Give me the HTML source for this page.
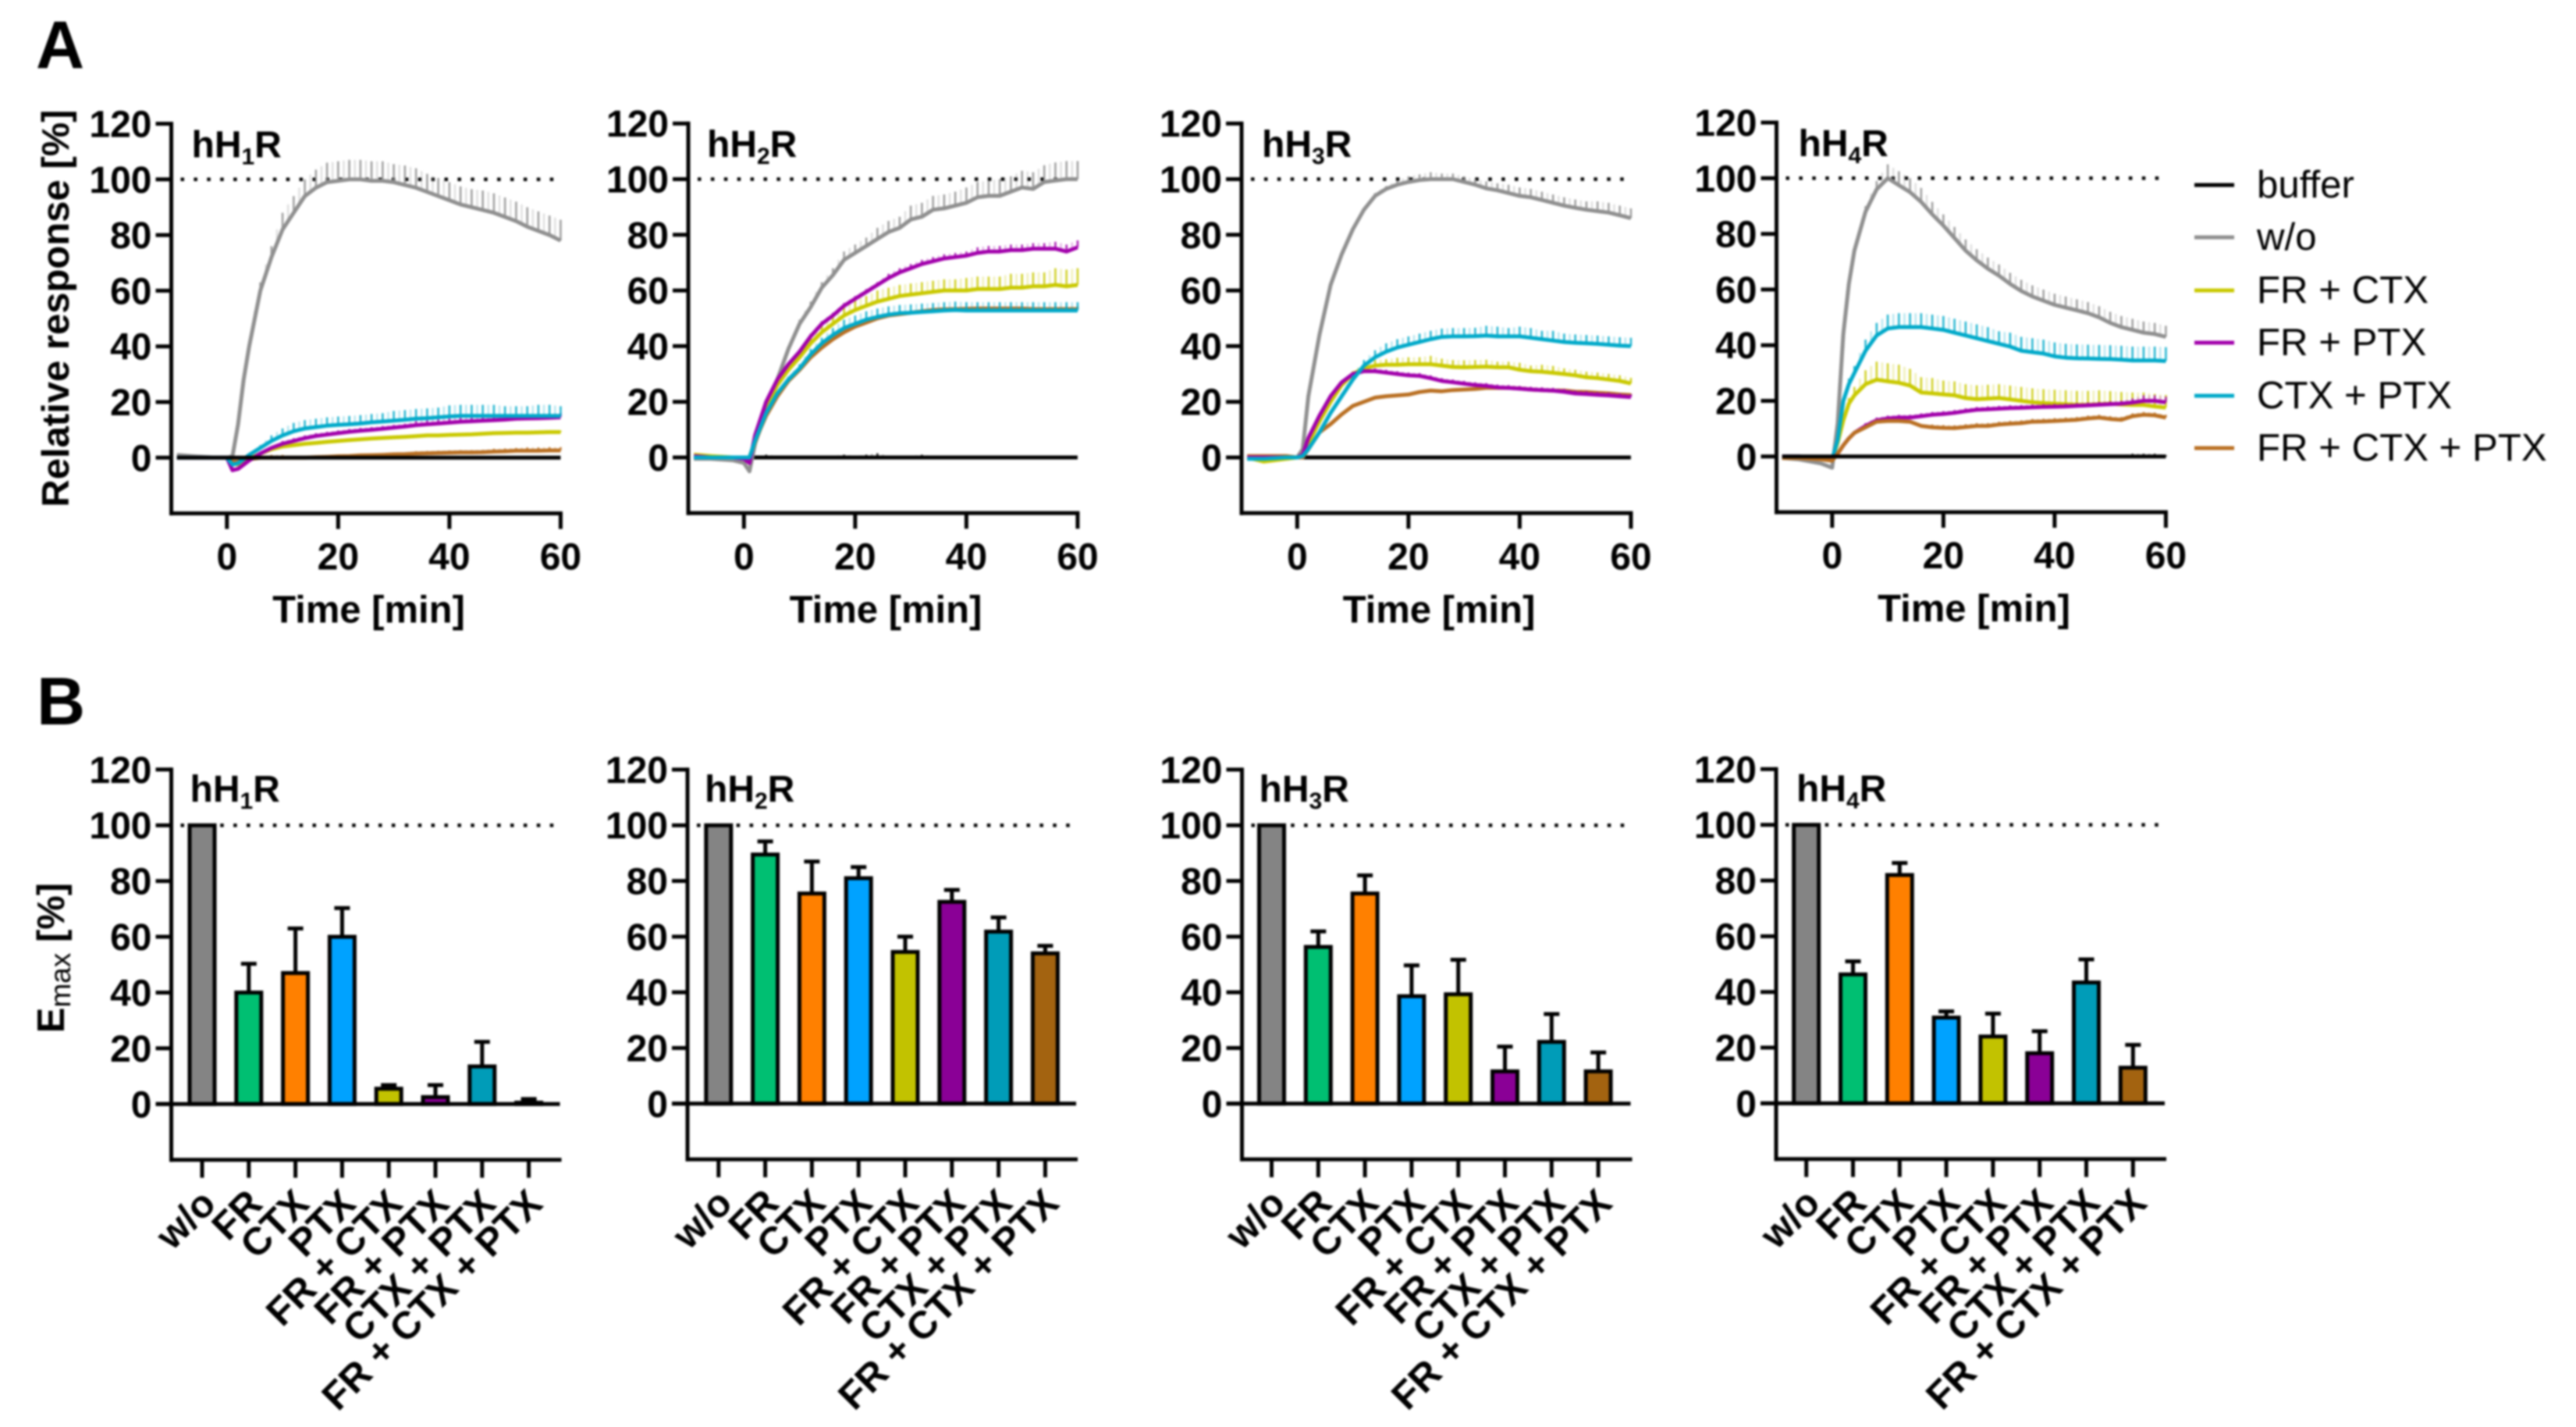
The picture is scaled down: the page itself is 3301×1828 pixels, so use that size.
<!DOCTYPE html>
<html lang="en">
<head>
<meta charset="utf-8">
<title>Histamine receptor responses</title>
<style>
html,body{margin:0;padding:0;background:#fff;width:3301px;height:1828px;overflow:hidden}
#figure{display:block;filter:blur(1.2px)}
text{font-family:"Liberation Sans",Arial,sans-serif;fill:#000}
.b{font-weight:700;font-size:48px}
.t{font-weight:700;font-size:49px}
.r{font-weight:700;font-size:49.5px}
.lg{font-weight:400;font-size:49.2px}
</style>
</head>
<body>
<svg id="figure" xmlns="http://www.w3.org/2000/svg" width="3301" height="1828" viewBox="0 0 3301 1828">
  <rect width="3301" height="1828" fill="#fff"/>
  <text x="46" y="87" font-size="86" font-weight="700">A</text>
  <text x="47" y="928" font-size="86" font-weight="700">B</text>
  <text class="t" transform="translate(88,395) rotate(-90)" text-anchor="middle">Relative response [%]</text>
  <text class="t" transform="translate(82,1227) rotate(-90)" text-anchor="middle">E<tspan font-size="37" font-weight="400" dy="8">max</tspan><tspan dy="-8"> [%]</tspan></text>
  <g>
    <g><line x1="2812" x2="2863" y1="237" y2="237" stroke="#000" stroke-width="5"/><text class="lg" x="2892" y="253">buffer</text></g>
    <g><line x1="2812" x2="2863" y1="304" y2="304" stroke="#8f8f8f" stroke-width="5"/><text class="lg" x="2892" y="320">w/o</text></g>
    <g><line x1="2812" x2="2863" y1="372" y2="372" stroke="#c9c900" stroke-width="5"/><text class="lg" x="2892" y="388">FR + CTX</text></g>
    <g><line x1="2812" x2="2863" y1="439" y2="439" stroke="#a100ab" stroke-width="5"/><text class="lg" x="2892" y="455">FR + PTX</text></g>
    <g><line x1="2812" x2="2863" y1="507" y2="507" stroke="#00a9c9" stroke-width="5"/><text class="lg" x="2892" y="523">CTX + PTX</text></g>
    <g><line x1="2812" x2="2863" y1="574" y2="574" stroke="#b96f22" stroke-width="5"/><text class="lg" x="2892" y="590">FR + CTX + PTX</text></g>
  </g>
</svg>
<script>
// ---------- shared axis labels ----------
const yTickValues = [0, 20, 40, 60, 80, 100, 120];
const xTickValues = [0, 20, 40, 60];
const times = [-9,-6,-2,0,1,2,3,4,6,8,10,12,14,16,18,20,22,24,26,28,30,32,34,36,38,40,42,44,46,48,50,52,54,56,58,60];
const barCategories = ["w/o","FR","CTX","PTX","FR + CTX","FR + PTX","CTX + PTX","FR + CTX + PTX"];
const seriesNames = ["buffer","w/o","FR + CTX","FR + PTX","CTX + PTX","FR + CTX + PTX"];
const seriesColors = ["#000000","#8f8f8f","#c9c900","#a100ab","#00a9c9","#b96f22"];
const barColors = ["#848484","#00bf72","#ff8000","#00a2ff","#c2c200","#8a0096","#009cb8","#a36310"];

// ---------- time-course values ----------
const bufferValues = [0,0,0,0,0,0,0,0,0,0,0,0,0,0,0,0,0,0,0,0,0,0,0,0,0,0,0,0,0,0,0,0,0,0,0,0];
const bufferErrNone = [0,0,0,0,0,0,0,0,0,0,0,0,0,0,0,0,0,0,0,0,0,0,0,0,0,0,0,0,0,0,0,0,0,0,0,0];
const h2BufferErr = [0,0,0,0,0,0,0.5,1,0.5,0.5,0,0,0,0.5,1,0.5,1,1.5,0.5,0.5,0.5,1,0.5,0.5,0.5,0.5,0,0,0,0.5,0,0,0,0,0,0];
const h4BufferErr = [0,0,0,0,0,0,0.5,0.5,0.5,0.5,0.5,0.5,0.5,0.5,0.5,0.5,0.5,0.5,0.5,0.5,0.5,0.5,0.5,0.5,0.5,0.5,0.5,0.5,0.5,0.5,0.5,0.5,1,1,1,0.5];

const h1Wo = [1,0.5,0,0,0.5,12,28,40,60,72,82,88,94,97,99,99.5,100,100,99.5,99.5,99,98,97,95.5,94,92.5,91,90,89,88,86.5,85,83,81.5,80,78];
const h1WoErr = [0,0,0,0,0,0.5,1,2,3,4,6,6,6,6.5,7,7,7,7,7,7,6.5,7,7,6.5,6.5,6.5,6.5,6.5,7,7,7,7,7,7,7,7.5];
const h1FrCtx = [0,0,0,0,-2,-2.5,-1.5,-0.5,1.5,3,4,4.5,5,5.3,5.7,6,6.3,6.6,6.9,7.1,7.3,7.5,7.7,8,8,8.2,8.3,8.4,8.6,8.8,8.9,9,9,9.1,9.2,9.2];
const h1FrCtxErr = [0,0,0,0,0,0,0,0,0.5,0.5,0.5,0.5,0.5,0.5,0.5,0.5,0.5,0.5,0.5,0.5,0.5,0.5,0.5,0.5,0.5,0.5,0.5,0.5,0.5,0.5,0.5,0.5,0.5,0.5,0.5,0.5];
const h1FrPtx = [0,0,0,0,-4.5,-4,-2.5,-1,1.5,3.5,5,6,7,7.8,8.3,8.8,9.3,9.7,10,10.4,10.8,11.2,11.7,12,12.3,12.6,12.9,13.1,13.3,13.5,13.7,14,14.1,14.2,14.3,14.5];
const h1FrPtxErr = [0,0,0,0,0,0,0,0,0.5,0.5,1,1,1,1,1,1,1,1,1,1,1,1,1.5,1.5,1.5,1.5,1.5,1.5,1.5,1.5,1.5,1.5,1.5,1.5,1.5,1.5];
const h1CtxPtx = [0,0,0,0,-2.5,-2,-0.5,1,3.5,6,8,9.5,10.5,11,11.5,11.8,12,12.3,12.7,13,13.3,13.6,14,14.2,14.5,14.8,15,15,15,15,15,15,15,15,15,15];
const h1CtxPtxErr = [0,0,0,0,0,0,0,0.5,1,2,2.5,3,3,3,3,3,3,3,3,3,3.5,3.5,3.5,3.5,3.5,4,4,4,4,4,3.5,3.5,3.5,4,4,3.5];
const h1FrCtxPtx = [0,0,0,0,-1.5,-1.5,-1,-0.5,0,0,0,0,0,0.2,0.3,0.5,0.6,0.8,0.9,1,1.2,1.3,1.5,1.6,1.7,1.8,1.9,1.9,2,2.2,2.3,2.5,2.5,2.5,2.6,2.6];
const h1FrCtxPtxErr = [0,0,0,0,0,0,0,0,0.5,1,1,0.5,0.5,0.5,0.5,0.5,0.5,0.5,0.5,0.5,0.5,0.5,0.8,0.8,0.8,0.8,0.8,0.8,0.8,1,1,1,1.2,1.2,1.2,1.2];

const h2Wo = [-0.5,-0.5,-1,-2,-5,5,11,17,28,39,48,54,61,65.5,71,73.5,76,78.5,81,82.5,85.5,86.5,89,89.5,90.5,91.5,93.5,94,94,95.5,97,96.5,99,99.5,100,100];
const h2WoErr = [0,0,0,0,0,0,0.5,0.5,1,1,1.5,2,2,2.5,3,3,3,4,4,4,5,5,5,5,5,5.5,5.5,5.5,6,5.5,6,6,6,6.5,6.5,6.5];
const h2FrCtx = [1,0.5,0,0,0,6,12,18,26,31.5,36,41,45,48,51,53,54.5,56,57,58,58.5,59,59.5,60,60,60,60.5,60.5,60.5,61,61,61.5,61.5,62,61.5,62];
const h2FrCtxErr = [0,0,0,0,0,0,0,0.5,1,1.5,2,2,3,3,3.5,3.5,3.5,4,4,4,4,4,4,4,4,4.5,4.5,4.5,4.5,5,5,5,5,6,6,6];
const h2FrPtx = [0.5,0,0,-0.5,-2,8,14,20,28,33.5,38,43.5,48,51,54.5,57,59.5,62,64.5,66.5,68,69.5,70.5,71.5,72,72.5,73.5,74,74,74.5,74.5,75,75,75,74,75.5];
const h2FrPtxErr = [0,0,0,0,0,0,0,0,0.5,0.5,0.5,1,1,1,1,1,1,1,1.5,1.5,1.5,1.5,1.5,1.5,1.5,1.5,2,2,2,2,2,2,2,2.5,2.5,2.5];
const h2CtxPtx = [0,0,0,0,0,6,11,16,23,28,32,37,41,44,46.5,48,49.5,50.5,51.3,51.8,52,52.3,52.5,52.8,53,52.8,52.8,52.8,52.8,52.8,52.8,52.8,52.8,52.8,52.8,52.8];
const h2CtxPtxErr = [0,0,0,0,0,0,0,0.5,0.5,1,1.5,2,2,2.5,3,3,3,3,3,3,3,3,3,3,3,3,3,3,3,3,3,3,3,3,3,3];
const h2FrCtxPtx = [0.5,0,0,0,0,5.5,10.5,15,22,27.5,31.5,36,39.5,42.5,45,47,48.5,50,51,51.5,52,52.5,53,53.2,53.3,53.4,53.5,53.5,53.5,53.5,53.5,53.3,53.3,53.3,53.3,53.3];
const h2FrCtxPtxErr = [0,0,0,0,0,0,0,0,0,0,0.5,0.5,0.5,0.5,0.5,0.5,0.5,0.5,0.5,0.5,0.5,0.5,0.5,0.5,0.5,0.5,0.5,0.5,0.5,0.5,0.5,0.5,0.5,1,1,1];

const h3Wo = [0,0,0,0,3,22,33,44,62,73,82,89,94,96.5,98,99,99.7,100,100,100,99,98,96.7,96,95,94,93.5,92.5,91.5,90.5,89.7,89,88.5,88,87,86];
const h3WoErr = [0,0,0,0,0,0,0,0,0,0,0.5,0.5,1,1,1.5,2,2,2.5,2,2,2,2,2.5,2.5,3,3,3,3,3,3,3,3,3.5,3.5,3.5,3.5];
const h3FrCtx = [0,-1.5,-0.5,0,1,5,9,13,20,26,30,32,33,33.3,33.3,33.5,33.5,33.5,33,32.5,32.4,32.5,32.6,32.4,32.4,31.5,31,30.8,30.4,30,29.5,28.8,28.5,28,27.5,26.6];
const h3FrCtxErr = [0,0,0,0,0,0,0,0,0,0.5,1,1.5,2,2,2.5,2.5,2.5,3,2.5,2.5,2.5,2.5,2.5,2,2,2.5,2,2.5,2.5,2,2,2,2,2,2,2];
const h3FrPtx = [0,0,0,0,1,7,11,15,22,27,30,31,31,30.5,30,29.5,29.3,28.5,27.5,27,26.5,26,25.7,25.2,25,24.7,24.4,24.2,24,23.6,23,22.8,22.5,22.3,22,21.7];
const h3FrPtxErr = [0,0,0,0,0,0,0,0,0,0,0.5,0.5,1,1,1,1,1,1,1,1,1,1,1,1,1,1,1,1,1,1,1,1,1,1,1,1];
const h3CtxPtx = [-0.5,-0.5,0,0,0.5,3,6,9,16,22,28,33,36,38,39.5,40.5,41.5,42.5,43.3,43.5,43.5,43.6,43.8,43.5,43.5,43.5,43,42.5,42,41.5,41.2,41,40.8,40.5,40.2,40];
const h3CtxPtxErr = [0,0,0,0,0,0,0,0,0.5,1,1.5,2,2.5,3,3,3,3,3,3,3,3,3,3.5,3.5,3,3.5,3.5,3,3.5,3,3,3,3,3,3,3];
const h3FrCtxPtx = [0.5,0.5,0.5,0,0,3,6,9,12,15.5,18.5,20,21.5,22,22.3,22.6,23.5,24,23.8,24.2,24.4,24.6,25,25,25,24.8,24.4,24.2,24,24,23.6,23.5,23.2,23,22.6,22.4];
const h3FrCtxPtxErr = [0,0,0,0,0,0,0,0,0,0,0,0,0,0,0,0,0,0.5,0.5,0.5,0.5,0.5,0.5,0.5,0.5,0.5,0.5,0.5,0.5,0.5,0.5,0.5,0.5,0.5,0.5,0.5];

const h4Wo = [-0.5,-1,-2.5,-4,12,44,62,74,88,96,100,97.5,95,91.5,87,83,78.5,74,70.5,67.5,65,62,59.5,57.5,56,54.5,53.5,52.5,51.5,50,48,46.5,45.5,44.5,44,43];
const h4WoErr = [0,0,0,0,0,0,0.5,1,2,3,5,5,5,5,4.5,4,4,4,4,4,4,4,4,4,4,4,4,4,4,4,4,4,4,4,4,4];
const h4FrCtx = [0,0,-0.5,-1,5,13,19,22,26,27.6,27,26.5,25.5,23,22.7,22.3,22,21,20.6,20.8,21,20.5,20,19.5,19.2,19,18.8,18.6,18.6,18.8,19,18.7,18.5,18.5,18,17.6];
const h4FrCtxErr = [0,0,0,0,0,1,2,3,5,6.5,6.5,6.5,6,5.5,5.5,5,5,5,5,5,5,5,5,5,5,5,5,5,5,5,4.5,4.5,4.5,4.5,4.5,4.5];
const h4FrPtx = [0,0,-0.5,-1,1,4,6.5,8.5,11,13,13.7,14,14,14.5,15,15.3,15.7,16.3,16.8,17,17.2,17.4,17.5,17.7,17.8,17.9,18,18.2,18.4,18.6,18.8,19,19.4,20,20,19.5];
const h4FrPtxErr = [0,0,0,0,0,0,0.5,0.5,1,1,1,1,1,1,1,1,1,1,1,1,1,1,1,1,1,1,1,1,1,1,1,1,1.5,2,2,2];
const h4CtxPtx = [0,0,-0.5,-1,6,20,26,30,38,43.5,46,46.5,46.5,46.5,46,45.5,44.5,43.5,42.5,41.5,40.5,39.5,38,37.5,37,36,35.5,35.3,35.2,35.1,35,34.8,34.5,34.5,34.5,34.3];
const h4CtxPtxErr = [0,0,0,0,0,1,2,2.5,4,4.5,5,5,5,5,5,5,5,5,5,5,4.5,5,5,5,5,5,5,5,5,5,5,5,5,5,5,5];
const h4FrCtxPtx = [-0.5,-0.5,-1,-1.5,1,4,6.5,8.5,10.5,12.5,12.8,12.8,12.5,11,10.5,10.3,10.2,10.6,11,11,11.5,11.8,12,12.5,12.6,12.8,13,13.2,13.7,14,13.5,13.2,14.5,15,14.8,14];
const h4FrCtxPtxErr = [0,0,0,0,0,0,0,0,0.5,0.5,0.5,0.5,0.5,0.5,1,1,1,1,1,1,1,1,1,1,1,1,1,1,1,1,1,1,1,1,1,1];

// ---------- Emax bar values ----------
const h1BarValues = [100,40,47,60,5.5,2.5,13.5,0.5];
const h1BarTops = [100,50.3,63,70.3,6.8,6.8,22.3,1.8];
const h2BarValues = [100,89.5,75.5,81,54.5,72.5,61.8,54];
const h2BarTops = [100,94.2,87,85,60,76.8,66.9,56.7];
const h3BarValues = [100,56.3,75.5,38.6,39.3,11.6,22.2,11.6];
const h3BarTops = [100,61.9,82,49.7,51.7,20.5,32.2,18.4];
const h4BarValues = [100,46.3,82,30.8,24,18,43.4,12.8];
const h4BarTops = [100,51,86.3,33,32.2,25.9,51.7,21];

// ---------- panel wiring: every list follows the seriesNames order ----------
const h1Series = [[bufferValues,bufferErrNone],[h1Wo,h1WoErr],[h1FrCtx,h1FrCtxErr],[h1FrPtx,h1FrPtxErr],[h1CtxPtx,h1CtxPtxErr],[h1FrCtxPtx,h1FrCtxPtxErr]];
const h2Series = [[bufferValues,h2BufferErr],[h2Wo,h2WoErr],[h2FrCtx,h2FrCtxErr],[h2FrPtx,h2FrPtxErr],[h2CtxPtx,h2CtxPtxErr],[h2FrCtxPtx,h2FrCtxPtxErr]];
const h3Series = [[bufferValues,bufferErrNone],[h3Wo,h3WoErr],[h3FrCtx,h3FrCtxErr],[h3FrPtx,h3FrPtxErr],[h3CtxPtx,h3CtxPtxErr],[h3FrCtxPtx,h3FrCtxPtxErr]];
const h4Series = [[bufferValues,h4BufferErr],[h4Wo,h4WoErr],[h4FrCtx,h4FrCtxErr],[h4FrPtx,h4FrPtxErr],[h4CtxPtx,h4CtxPtxErr],[h4FrCtxPtx,h4FrCtxPtxErr]];
const h1Order = [1,2,5,3,4,0];
const h2Order = [0,1,5,2,3,4];
const h3Order = [0,1,5,2,3,4];
const h4Order = [1,2,4,3,5,0];

const NS = "http://www.w3.org/2000/svg";
const root = document.getElementById("figure");
function mk(tag, attrs, parent) {
  const el = document.createElementNS(NS, tag);
  for (const k in attrs) el.setAttribute(k, attrs[k]);
  parent.appendChild(el);
  return el;
}
function panelTitle(parent, x, y, num) {
  const t = mk("text", {x: x, y: y, "class": "b"}, parent);
  
  
  t.appendChild(document.createTextNode("hH"));
  const s = mk("tspan", {"font-size": 30, dy: 9}, t);
  s.textContent = num;
  const r = mk("tspan", {dy: -9}, t);
  r.textContent = "R";
}
function yAxis(g, axisX, yOf, bottomVal) {
  const l = mk("line", {x1: axisX, x2: axisX, y1: yOf(120) - 2.5, y2: yOf(bottomVal) + 2.5, stroke: "#000", "stroke-width": 5}, g);
  
  
  yTickValues.forEach(function (v) {
    const tk = mk("line", {x1: axisX - 20, x2: axisX, y1: yOf(v), y2: yOf(v), stroke: "#000", "stroke-width": 5}, g);
    
    
    const tx = mk("text", {x: axisX - 25, y: yOf(v) + 17, "text-anchor": "end", "class": "b"}, g);
    
    
    tx.textContent = v;
  });
}
function dotted(g, x1, x2, y) {
  const d = mk("line", {x1: x1, x2: x2, y1: y, y2: y, stroke: "#000", "stroke-width": 4.5, "stroke-dasharray": "4.5 12.4"}, g);
  
  
}

function linePanel(axisX, zeroY, topY, num, titleX, series, order) {
  const g = mk("g", {}, root);
  
  
  const x0 = axisX + 71.3, xs = 7.127, ys = (zeroY - topY) / 120;
  const xOf = function (t) { return x0 + t * xs; };
  const yOf = function (v) { return zeroY - v * ys; };
  yAxis(g, axisX, yOf, -20);
  const xl = mk("line", {x1: axisX - 2.5, x2: xOf(60) + 2.5, y1: yOf(-20), y2: yOf(-20), stroke: "#000", "stroke-width": 5}, g);
  
  
  xTickValues.forEach(function (t) {
    const tk = mk("line", {x1: xOf(t), x2: xOf(t), y1: yOf(-20), y2: yOf(-20) + 20, stroke: "#000", "stroke-width": 5}, g);
    
    
    const tx = mk("text", {x: xOf(t), y: yOf(-20) + 72, "text-anchor": "middle", "class": "b"}, g);
    
    
    tx.textContent = t;
  });
  const xt = mk("text", {x: axisX + 253, y: yOf(-20) + 140, "text-anchor": "middle", "class": "t"}, g);
  
  
  xt.textContent = "Time [min]";
  panelTitle(g, titleX, topY + 43, num);
  dotted(g, axisX + 12, xOf(60), yOf(100));
  order.forEach(function (si) {
    const vals = series[si][0], errs = series[si][1], col = seriesColors[si];
    const sg = mk("g", {}, g);
    
    
    vals.forEach(function (v, i) {
      if (errs[i] > 0) {
        const eb = mk("line", {x1: xOf(times[i]), x2: xOf(times[i]), y1: yOf(v), y2: yOf(v + errs[i]), stroke: col, "stroke-width": 2.6, "stroke-opacity": 0.85}, sg);
        
        
      }
      if (i > 0 && times[i] - times[i - 1] === 2 && errs[i] > 0 && errs[i - 1] > 0) {
        const mt = (times[i] + times[i - 1]) / 2, mv = (v + vals[i - 1]) / 2, me = (errs[i] + errs[i - 1]) / 2;
        const eb2 = mk("line", {x1: xOf(mt), x2: xOf(mt), y1: yOf(mv), y2: yOf(mv + me), stroke: col, "stroke-width": 2.6, "stroke-opacity": 0.28}, sg);
        
        
      }
    });
    const pts = vals.map(function (v, i) { return xOf(times[i]).toFixed(1) + "," + yOf(v).toFixed(1); }).join(" ");
    const pl = mk("polyline", {points: pts, fill: "none", stroke: col, "stroke-width": 5, "stroke-linejoin": "round"}, sg);
    
    
  });
}

function barPanel(axisX, firstX, zeroY, topY, num, titleX, values, tops) {
  const g = mk("g", {}, root);
  
  
  const ys = (zeroY - topY) / 120, step = 59.8, w = 32;
  const yOf = function (v) { return zeroY - v * ys; };
  const xOf = function (i) { return firstX + i * step; };
  yAxis(g, axisX, yOf, -20);
  panelTitle(g, titleX, topY + 41, num);
  dotted(g, axisX + 12, axisX + 498, yOf(100));
  const xl = mk("line", {x1: axisX - 2.5, x2: axisX + 500, y1: yOf(-20), y2: yOf(-20), stroke: "#000", "stroke-width": 5}, g);
  
  
  values.forEach(function (v, i) {
    const c = xOf(i);
    if (tops[i] > v) {
      const e1 = mk("line", {x1: c, x2: c, y1: yOf(v), y2: yOf(tops[i]), stroke: "#000", "stroke-width": 5}, g);
      
      
      const e2 = mk("line", {x1: c - 10, x2: c + 10, y1: yOf(tops[i]), y2: yOf(tops[i]), stroke: "#000", "stroke-width": 5}, g);
      
      
    }
    const r = mk("rect", {x: c - w / 2, y: yOf(v), width: w, height: zeroY - yOf(v), fill: barColors[i], stroke: "#000", "stroke-width": 5}, g);
    
    
    const tk = mk("line", {x1: c, x2: c, y1: yOf(-20), y2: yOf(-20) + 23, stroke: "#000", "stroke-width": 5}, g);
    
    
    const tx = mk("text", {transform: "translate(" + (c + 20) + "," + (yOf(-20) + 59) + ") rotate(-45)", "text-anchor": "end", "class": "r"}, g);
    
    
    tx.textContent = barCategories[i];
  });
  const zl = mk("line", {x1: axisX - 20, x2: axisX + 498, y1: zeroY, y2: zeroY, stroke: "#000", "stroke-width": 5}, g);
  
  
}

linePanel(219.5, 586.3, 158.5, 1, 245.5, h1Series, h1Order);
linePanel(882, 586, 158.2, 2, 906, h2Series, h2Order);
linePanel(1591, 586, 158.2, 3, 1617, h3Series, h3Order);
linePanel(2276.5, 584.8, 157, 4, 2304.5, h4Series, h4Order);
barPanel(219.5, 259, 1414.3, 985.8, 1, 243.5, h1BarValues, h1BarTops);
barPanel(881, 920.8, 1413.8, 985.9, 2, 903, h2BarValues, h2BarTops);
barPanel(1591.5, 1629.5, 1413.8, 985.9, 3, 1613.5, h3BarValues, h3BarTops);
barPanel(2276, 2314.7, 1413.4, 985.3, 4, 2302, h4BarValues, h4BarTops);
</script>
</body>
</html>
